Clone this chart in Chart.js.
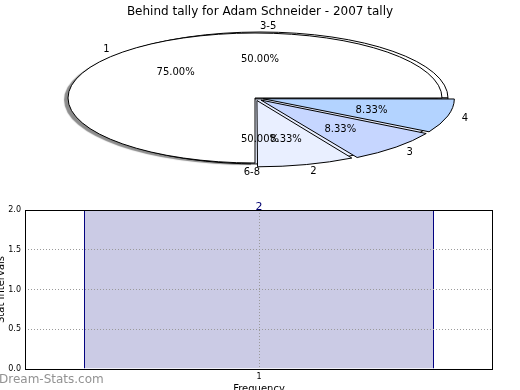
<!DOCTYPE html>
<html>
<head>
<meta charset="utf-8">
<script src="https://cdn.jsdelivr.net/npm/chart.js@4.4.1/dist/chart.umd.min.js"></script>
<style>
  html, body { margin: 0; padding: 0; background: #fff; overflow: hidden; }
  #wrap { position: relative; width: 520px; height: 390px; overflow: hidden; }
  canvas { position: absolute; }
  #pieBack, #pieFront { left: 0; top: 0; }
  #barChart { left: -5px; top: 195px; }
  #mark { position: absolute; left: -1px; top: 372px; font: 12px 'DejaVu Sans', sans-serif; color: #929292; }
</style>
</head>
<body>
<div id="wrap">
  <canvas id="pieBack" width="520" height="200"></canvas>
  <canvas id="pieFront" width="520" height="200"></canvas>
  <canvas id="barChart" width="525" height="205"></canvas>
  <div id="mark">Dream-Stats.com</div>
</div>
<script>
// Data
const tallyLabels = ['1', '2', '3', '4'];
const tallyValues = [9, 1, 1, 1];
const rangeLabels = ['3-5', '6-8'];
const rangeValues = [1, 1];
const freqLabels = ['1'];
const freqValues = [2];
const yTickValues = [0, 0.5, 1, 1.5, 2];

Chart.defaults.font.family = "'DejaVu Sans', sans-serif";
Chart.defaults.color = '#000';

// where each pie ends up on the page (ellipse centre and radii)
const backGeom = { cx: 260, cy: 98, rx: 188, ry: 66 };
const frontGeom = { cx: 255, cy: 98, rx: 187, ry: 65 };

// squash the round pie into an ellipse, keep line widths even
// shadow only goes under the first (big) slice
function ellipsePlugin(g, shadow) {
    return {
        id: 'ellipse',
        beforeDatasetDraw(chart) {
            const ctx = chart.ctx;
            const arc = chart.getDatasetMeta(0).data[0];
            const r = arc.outerRadius;
            const base = ctx.getTransform();
            let fills = 0;
            ctx.save();
            ctx.translate(g.cx, g.cy);
            ctx.scale(g.rx / r, -g.ry / r);
            ctx.translate(-arc.x, -arc.y);
            ctx.fill = function () {
                this.save();
                if (shadow && fills === 0) {
                    this.shadowColor = 'rgba(0,0,0,0.45)';
                    this.shadowOffsetX = -4;
                    this.shadowOffsetY = 2;
                    this.shadowBlur = 1;
                }
                fills++;
                CanvasRenderingContext2D.prototype.fill.call(this);
                this.restore();
            };
            ctx.stroke = function () {
                this.save();
                this.setTransform(base);
                CanvasRenderingContext2D.prototype.stroke.call(this);
                this.restore();
            };
        },
        afterDatasetDraw(chart) {
            delete chart.ctx.stroke;
            delete chart.ctx.fill;
            chart.ctx.restore();
        }
    };
}

function drawPieLabels(ctx, chart, g) {
    const meta = chart.getDatasetMeta(0);
    const values = chart.data.datasets[0].data;
    const total = values.reduce((a, b) => a + b, 0);
    meta.data.forEach((arc, i) => {
        const mid = (arc.startAngle + arc.endAngle) / 2;
        const r = arc.outerRadius;
        const off = (arc.options.offset || 0) / 4;
        const at = f => [
            g.cx + (off + f * r) * Math.cos(mid) * g.rx / r,
            g.cy - (off + f * r) * Math.sin(mid) * g.ry / r + 1.5
        ];
        const [lx, ly] = at(1.1);
        ctx.textAlign = Math.cos(mid) > 0 ? 'left' : 'right';
        ctx.fillText(chart.data.labels[i], lx, ly);
        const [px, py] = at(0.6);
        ctx.textAlign = 'center';
        ctx.fillText((values[i] / total * 100).toFixed(2) + '%', px, py);
    });
}

// Back pie (3-5 / 6-8)
const backChart = new Chart(document.getElementById('pieBack'), {
    type: 'pie',
    data: {
        labels: rangeLabels,
        datasets: [{
            data: rangeValues,
            backgroundColor: ['#ffffff', '#e8eeff'],
            borderColor: '#000',
            borderWidth: 1,
            clip: false
        }]
    },
    options: {
        responsive: false,
        animation: false,
        events: [],
        rotation: 90,
        radius: 100,
        plugins: { legend: { display: false }, tooltip: { enabled: false } }
    },
    plugins: [ellipsePlugin(backGeom, false)]
});

// Front pie (1..4) + all pie texts
const pieLabelPlugin = {
    id: 'pieLabels',
    afterDraw(chart) {
        const ctx = chart.ctx;
        ctx.save();
        ctx.fillStyle = '#000';
        ctx.font = "10px 'DejaVu Sans', sans-serif";
        ctx.textBaseline = 'middle';
        drawPieLabels(ctx, backChart, backGeom);
        drawPieLabels(ctx, chart, frontGeom);
        ctx.restore();
    }
};

const frontChart = new Chart(document.getElementById('pieFront'), {
    type: 'pie',
    data: {
        labels: tallyLabels,
        datasets: [{
            data: tallyValues,
            backgroundColor: ['#ffffff', '#e9efff', '#c6d6ff', '#b3d3ff'],
            borderColor: '#000',
            borderWidth: 1,
            offset: [0, 16, 18, 18],
            clip: false
        }]
    },
    options: {
        responsive: false,
        animation: false,
        events: [],
        rotation: 90,
        radius: 100,
        plugins: {
            legend: { display: false },
            tooltip: { enabled: false },
            title: {
                display: true,
                text: 'Behind tally for Adam Schneider - 2007 tally',
                font: { size: 12, weight: 'normal' },
                color: '#000',
                padding: { top: 5, bottom: 0 }
            }
        }
    },
    plugins: [ellipsePlugin(frontGeom, true), pieLabelPlugin]
});

// Bar chart
const boxPlugin = {
    id: 'box',
    afterDraw(chart) {
        const { ctx, chartArea: a } = chart;
        ctx.save();
        ctx.strokeStyle = '#000';
        ctx.lineWidth = 1;
        ctx.strokeRect(a.left + 0.5, a.top + 0.5, a.right - a.left - 1, a.bottom - a.top);
        // bar value on top
        const bar = chart.getDatasetMeta(0).data[0];
        ctx.fillStyle = '#000070';
        ctx.font = "11px 'DejaVu Sans', sans-serif";
        ctx.textAlign = 'center';
        ctx.textBaseline = 'alphabetic';
        ctx.fillText(String(chart.data.datasets[0].data[0]), bar.x, bar.y);
        ctx.restore();
    }
};

const gridStyle = { color: '#9a9a9a', drawTicks: false, z: 1 };

const barChart = new Chart(document.getElementById('barChart'), {
    type: 'bar',
    data: {
        labels: freqLabels,
        datasets: [{
            data: freqValues,
            backgroundColor: '#cbcbe5',
            borderColor: '#000080',
            borderWidth: 1,
            categoryPercentage: 1,
            barPercentage: 0.7479
        }]
    },
    options: {
        responsive: false,
        animation: false,
        events: [],
        layout: { padding: { top: 15, right: 27, left: 0, bottom: 0 } },
        plugins: { legend: { display: false }, tooltip: { enabled: false } },
        scales: {
            x: {
                grid: Object.assign({ offset: false }, gridStyle),
                border: { display: false, dash: [1, 2] },
                ticks: { font: { size: 8 }, color: '#000', padding: 3 },
                title: { display: true, text: 'Frequency', font: { size: 10 }, color: '#000', padding: { top: 0, bottom: 5 } },
                afterFit: s => { s.height = 31; }
            },
            y: {
                min: 0,
                max: 2,
                grid: gridStyle,
                border: { display: false, dash: [1, 2] },
                afterBuildTicks: s => { s.ticks = yTickValues.map(v => ({ value: v })); },
                ticks: { font: { size: 8 }, color: '#000', padding: 4, callback: v => v.toFixed(1) },
                title: { display: true, text: 'Stat Intervals', font: { size: 10 }, color: '#000', padding: 0 },
                afterFit: s => { s.width = 30; }
            }
        }
    },
    plugins: [boxPlugin]
});
</script>
</body>
</html>
